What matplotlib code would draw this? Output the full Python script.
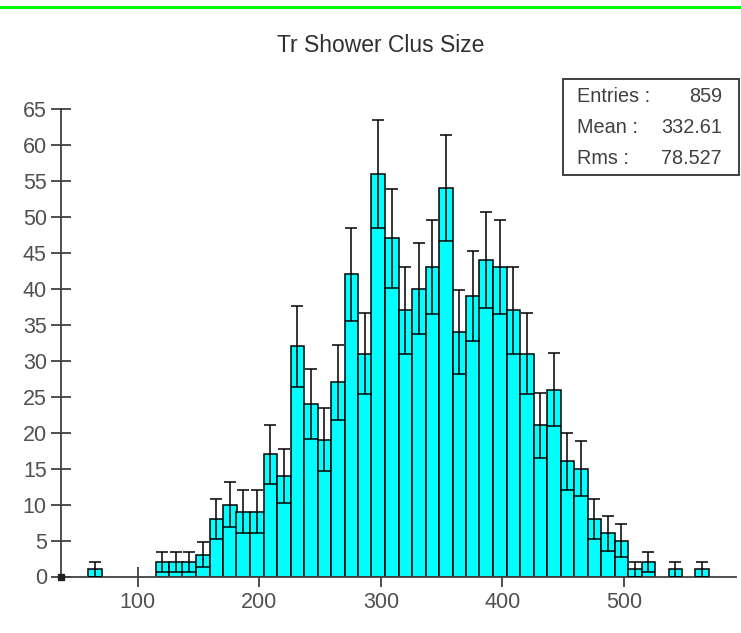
import numpy as np
import matplotlib
matplotlib.use("Agg")
import matplotlib.pyplot as plt
from matplotlib.patches import Rectangle

plt.rcParams['font.family'] = ['Liberation Sans', 'DejaVu Sans']

title = "Tr Shower Clus Size"
x_low = 37.0
x_high = 592.0
n_bins = 50
counts = [0, 0, 1, 0, 0, 0, 0, 2, 2, 2,
          3, 8, 10, 9, 9, 17, 14, 32, 24, 19,
          27, 42, 31, 56, 47, 37, 40, 43, 54, 34,
          39, 44, 43, 37, 31, 21, 26, 16, 15, 8,
          6, 5, 1, 2, 0, 1, 0, 1, 0, 0]
stat_labels = ["Entries :", "Mean :", "Rms :"]
stat_values = ["859", "332.61", "78.527"]
x_ticks = [100, 200, 300, 400, 500]
y_ticks = list(range(0, 70, 5))

W, H = 741, 633
fig = plt.figure(figsize=(W / 100, H / 100), dpi=100)

def fx(px):
    return px / W

def fy(py):
    return 1 - py / H

ax_left, ax_right = 61, 736
ax_top, ax_bot = 109, 576.5
ax = fig.add_axes([fx(ax_left), fy(ax_bot), fx(ax_right - ax_left), (ax_bot - ax_top) / H])

edges = np.linspace(x_low, x_high, n_bins + 1)
width = edges[1] - edges[0]
counts_arr = np.array(counts, dtype=float)
nz = counts_arr > 0

ax.bar(edges[:-1][nz], counts_arr[nz], width=width, align='edge',
       color='#00ffff', edgecolor='black', linewidth=1.1, zorder=2)

centers = (edges[:-1] + edges[1:]) / 2
err = np.sqrt(counts_arr)
for c, l, v, e in zip(centers, edges[:-1], counts_arr, err):
    if v <= 0:
        continue
    lo, hi = v - e, v + e
    ax.plot([c, c], [lo, hi], color='black', lw=1.1, zorder=3, solid_capstyle='butt')
    ax.plot([l, l + width], [lo, lo], color='black', lw=1.1, zorder=3, solid_capstyle='butt')
    ax.plot([l + 0.04 * width, l + 0.96 * width], [hi, hi], color='black', lw=1.1, zorder=3,
            solid_capstyle='butt')

ax.set_xlim(x_low, x_high)
ax.set_ylim(0, 65)
for s in ['top', 'right']:
    ax.spines[s].set_visible(False)
for s in ['left', 'bottom']:
    ax.spines[s].set_color('#404040')
    ax.spines[s].set_linewidth(1.3)
ax.set_xticks(x_ticks)
ax.set_yticks(y_ticks)
ax.tick_params(direction='inout', length=14.5, width=1.3, color='#404040',
               labelcolor='#505050', labelsize=15.5)
ax.tick_params(axis='y', pad=3)
ax.tick_params(axis='x', pad=4)
ax.plot([x_low], [0], 's', color='#202020', ms=4, clip_on=False, zorder=5)
ax.patch.set_alpha(0)

# title
fig.text(fx(381), fy(46), title, ha='center', va='center', fontsize=16.5, color='#303030')

# green top line
fig.add_artist(Rectangle((0, fy(9)), 1, 3 / H, transform=fig.transFigure,
                         facecolor='#00ff00', edgecolor='none'))

# stats box
bx0, bx1, by0, by1 = 563, 739, 79, 175
fig.add_artist(Rectangle((fx(bx0), fy(by1)), fx(bx1 - bx0), (by1 - by0) / H,
                         transform=fig.transFigure, facecolor='white',
                         edgecolor='#303030', linewidth=1.3))
row_y = [97, 128, 158]
for lab, val, yy in zip(stat_labels, stat_values, row_y):
    fig.text(fx(577), fy(yy), lab, ha='left', va='center', fontsize=14.3, color='#404040')
    fig.text(fx(722), fy(yy), val, ha='right', va='center', fontsize=14.3, color='#404040')

fig.savefig("out.png", dpi=100)
